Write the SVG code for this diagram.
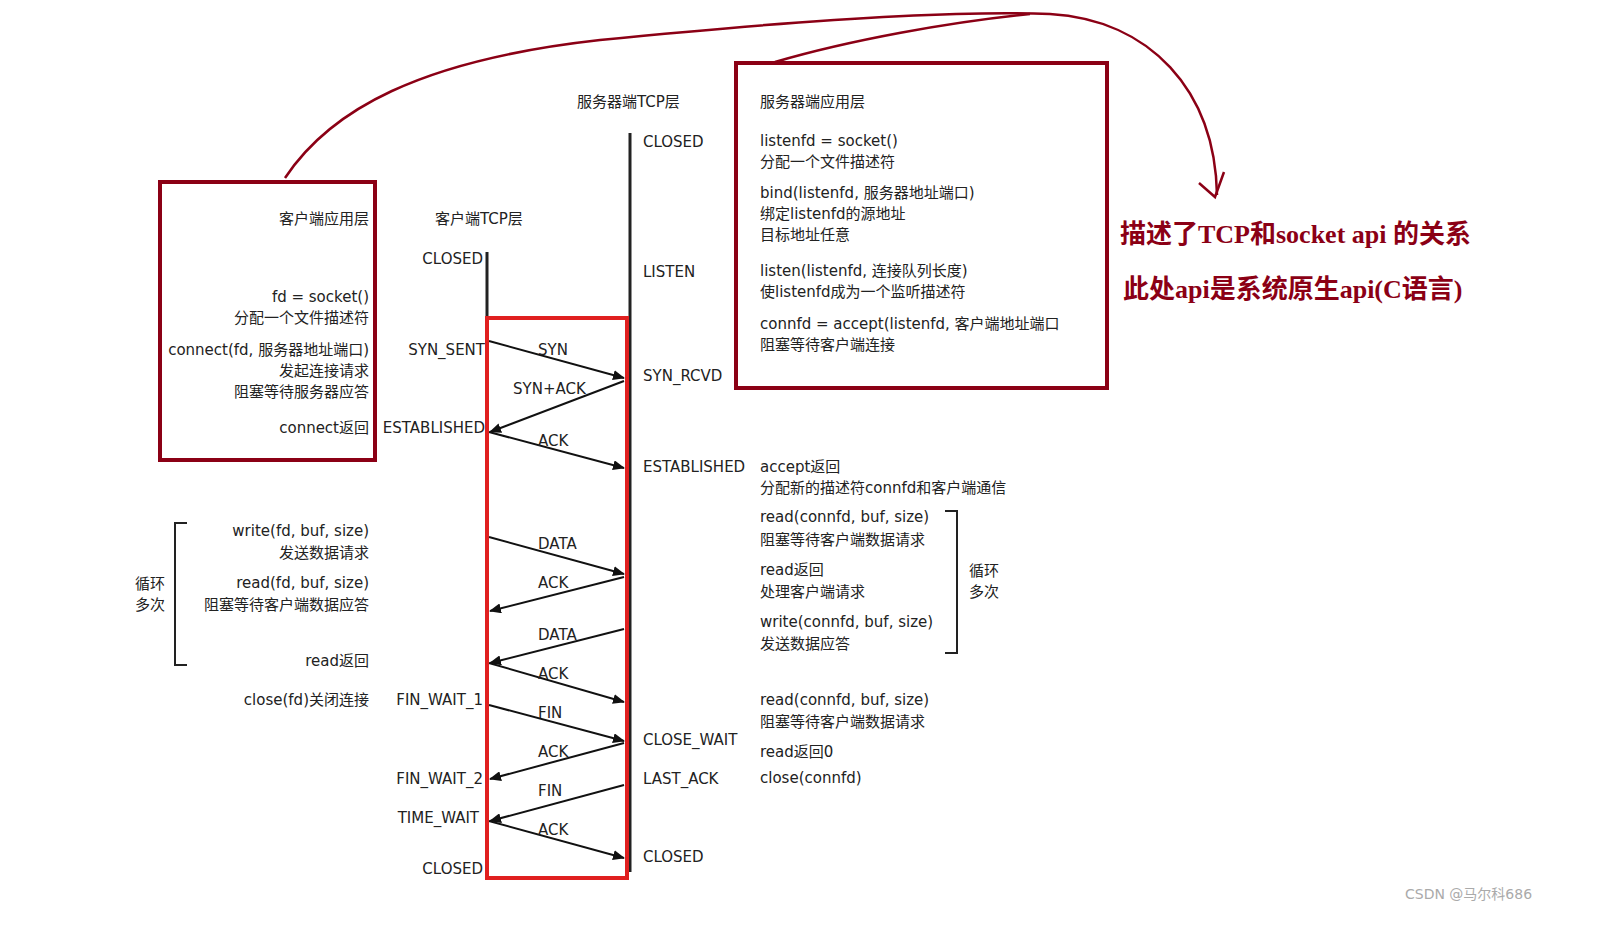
<svg xmlns="http://www.w3.org/2000/svg" width="1605" height="933" viewBox="0 0 1605 933">
<style>
text{font-family:"DejaVu Sans","Noto Sans CJK SC",sans-serif;font-size:15px;fill:#222}
.r{text-anchor:end}
.lbl{font-size:15px}
.big{font-family:"Liberation Serif","Noto Sans CJK SC",serif;font-size:26px;font-weight:bold;fill:#8b0015}
.ar{stroke:#111;stroke-width:2;fill:none;marker-end:url(#ah)}
.box{fill:none;stroke:#8b0015;stroke-width:4}
</style>
<defs>
<marker id="ah" markerWidth="12" markerHeight="10" refX="11" refY="5" orient="auto" markerUnits="userSpaceOnUse"><path d="M0,0 L12,5 L0,10 z" fill="#111"/></marker>
</defs>
<rect width="1605" height="933" fill="#fff"/>
<g id="lifelines">
<line x1="487" y1="252" x2="487" y2="878" stroke="#222" stroke-width="3"/>
<line x1="630" y1="133" x2="630" y2="872" stroke="#222" stroke-width="3"/>
</g>
<g id="client-app">
<rect class="box" x="160" y="182" width="215" height="278"/>
<text class="r" x="369" y="224">客户端应用层</text>
<text class="r" x="369" y="302">fd = socket()</text>
<text class="r" x="369" y="323">分配一个文件描述符</text>
<text class="r" x="369" y="355">connect(fd, 服务器地址端口)</text>
<text class="r" x="369" y="376">发起连接请求</text>
<text class="r" x="369" y="397">阻塞等待服务器应答</text>
<text class="r" x="369" y="433">connect返回</text>
</g>
<g id="client-tcp">
<text x="435" y="224">客户端TCP层</text>
<text class="r" x="483" y="264">CLOSED</text>
<text class="r" x="485" y="355">SYN_SENT</text>
<text class="r" x="485" y="433">ESTABLISHED</text>
<text class="r" x="483" y="705">FIN_WAIT_1</text>
<text class="r" x="483" y="784">FIN_WAIT_2</text>
<text class="r" x="479" y="823">TIME_WAIT</text>
<text class="r" x="483" y="874">CLOSED</text>
</g>
<g id="client-loop">
<path d="M187,523 H175 V665 H187" fill="none" stroke="#222" stroke-width="2"/>
<text x="135" y="589">循环</text>
<text x="135" y="610">多次</text>
<text class="r" x="369" y="536">write(fd, buf, size)</text>
<text class="r" x="369" y="558">发送数据请求</text>
<text class="r" x="369" y="588">read(fd, buf, size)</text>
<text class="r" x="369" y="610">阻塞等待客户端数据应答</text>
<text class="r" x="369" y="666">read返回</text>
<text class="r" x="369" y="705">close(fd)关闭连接</text>
</g>
<g id="server-tcp">
<text x="577" y="107">服务器端TCP层</text>
<text x="643" y="147">CLOSED</text>
<text x="643" y="277">LISTEN</text>
<text x="643" y="381">SYN_RCVD</text>
<text x="643" y="472">ESTABLISHED</text>
<text x="643" y="745">CLOSE_WAIT</text>
<text x="643" y="784">LAST_ACK</text>
<text x="643" y="862">CLOSED</text>
</g>
<g id="server-app">
<rect class="box" x="736" y="63" width="371" height="325"/>
<text x="760" y="107">服务器端应用层</text>
<text x="760" y="146">listenfd = socket()</text>
<text x="760" y="167">分配一个文件描述符</text>
<text x="760" y="198">bind(listenfd, 服务器地址端口)</text>
<text x="760" y="219">绑定listenfd的源地址</text>
<text x="760" y="240">目标地址任意</text>
<text x="760" y="276">listen(listenfd, 连接队列长度)</text>
<text x="760" y="297">使listenfd成为一个监听描述符</text>
<text x="760" y="329">connfd = accept(listenfd, 客户端地址端口</text>
<text x="760" y="350">阻塞等待客户端连接</text>
</g>
<g id="server-lower">
<text x="760" y="472">accept返回</text>
<text x="760" y="493">分配新的描述符connfd和客户端通信</text>
<text x="760" y="522">read(connfd, buf, size)</text>
<text x="760" y="545">阻塞等待客户端数据请求</text>
<text x="760" y="575">read返回</text>
<text x="760" y="597">处理客户端请求</text>
<text x="760" y="627">write(connfd, buf, size)</text>
<text x="760" y="649">发送数据应答</text>
<path d="M945,511 H957 V653 H945" fill="none" stroke="#222" stroke-width="2"/>
<text x="969" y="576">循环</text>
<text x="969" y="597">多次</text>
<text x="760" y="705">read(connfd, buf, size)</text>
<text x="760" y="727">阻塞等待客户端数据请求</text>
<text x="760" y="757">read返回0</text>
<text x="760" y="783">close(connfd)</text>
</g>
<g id="connectors">
<line class="ar" x1="489" y1="341" x2="624" y2="378"/>
<line class="ar" x1="624" y1="381" x2="490" y2="432"/>
<line class="ar" x1="489" y1="432" x2="624" y2="468"/>
<line class="ar" x1="489" y1="537" x2="624" y2="574"/>
<line class="ar" x1="624" y1="577" x2="490" y2="611"/>
<line class="ar" x1="624" y1="629" x2="490" y2="663"/>
<line class="ar" x1="489" y1="663" x2="624" y2="702"/>
<line class="ar" x1="489" y1="705" x2="624" y2="741"/>
<line class="ar" x1="624" y1="743" x2="490" y2="779"/>
<line class="ar" x1="624" y1="785" x2="490" y2="821"/>
<line class="ar" x1="489" y1="821" x2="624" y2="858"/>
<text x="538" y="355">SYN</text>
<text x="513" y="394">SYN+ACK</text>
<text x="538" y="446">ACK</text>
<text x="538" y="549">DATA</text>
<text x="538" y="588">ACK</text>
<text x="538" y="640">DATA</text>
<text x="538" y="679">ACK</text>
<text x="538" y="718">FIN</text>
<text x="538" y="757">ACK</text>
<text x="538" y="796">FIN</text>
<text x="538" y="835">ACK</text>
</g>
<rect x="487" y="318" width="140" height="560" fill="none" stroke="#e02020" stroke-width="4"/>
<g id="annotation">
<path d="M285,178 C330,110 420,60 600,40 C800,20 950,10 1050,14 C1150,20 1215,90 1217,195" fill="none" stroke="#8b0015" stroke-width="2.5"/>
<path d="M775,62 C850,40 950,22 1030,14" fill="none" stroke="#8b0015" stroke-width="2.5"/>
<path d="M1199,183 L1215,197 L1224,172" fill="none" stroke="#8b0015" stroke-width="2.5"/>
<text class="big" x="1120" y="243">描述了TCP和socket api 的关系</text>
<text class="big" x="1123" y="298">此处api是系统原生api(C语言)</text>
</g>
<text x="1405" y="899" style="font-size:14px;fill:#aaa">CSDN @马尔科686</text>
</svg>
